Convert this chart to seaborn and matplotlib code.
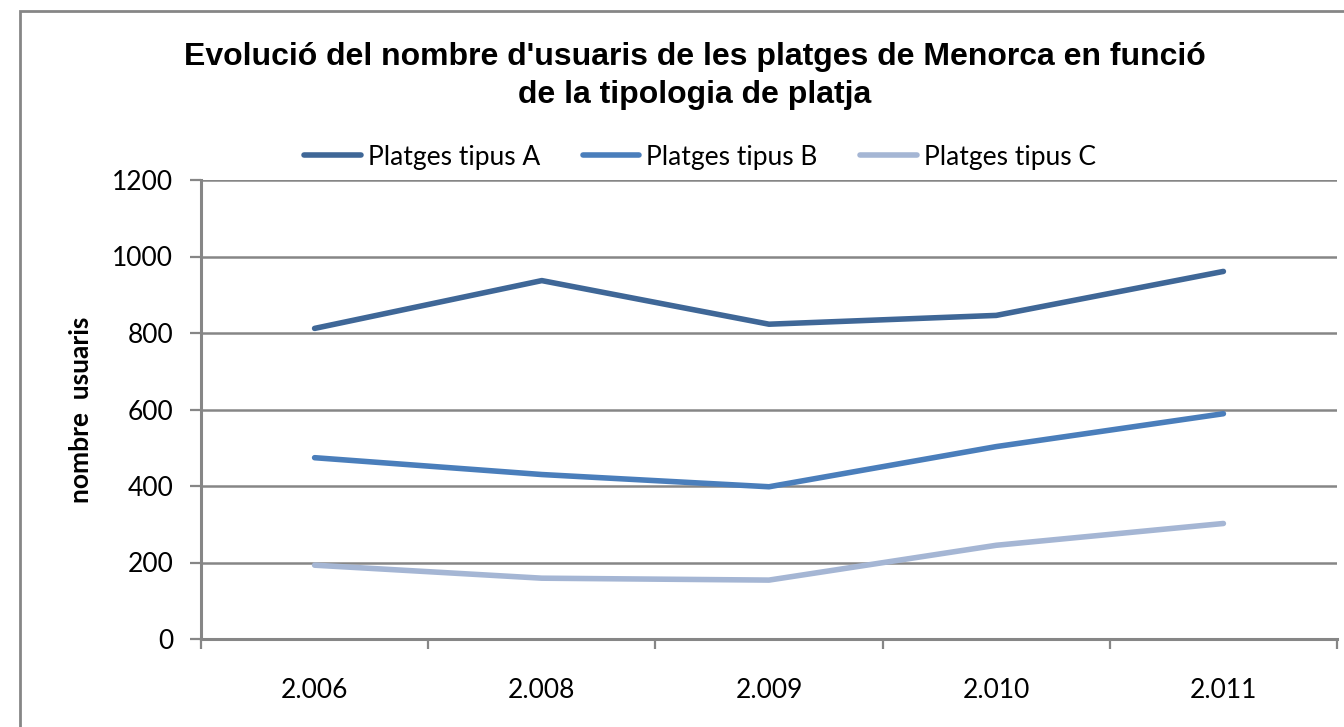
import pandas as pd
import matplotlib.pyplot as plt
import seaborn as sns
from matplotlib.patches import Rectangle
from matplotlib.ticker import FixedLocator

# Dades
anys = ["2.006", "2.008", "2.009", "2.010", "2.011"]
tipus_a = [812, 937, 823, 846, 961]
tipus_b = [474, 430, 398, 503, 589]
tipus_c = [193, 159, 154, 245, 302]
series = ["Platges tipus A", "Platges tipus B", "Platges tipus C"]
colors = ["#3F6797", "#4A7EBB", "#A5B6D4"]

df = pd.DataFrame({
    "Any": anys * 3,
    "Usuaris": tipus_a + tipus_b + tipus_c,
    "Tipus": [s for s in series for _ in anys],
})

sns.set_style("white")
plt.rcParams["font.family"] = ["Lato", "DejaVu Sans"]
plt.rcParams["text.color"] = "black"
plt.rcParams["xtick.labelcolor"] = "black"
plt.rcParams["ytick.labelcolor"] = "black"

fig = plt.figure(figsize=(13.44, 7.27), dpi=100)
ax = fig.add_axes([201 / 1344, 1 - 639 / 727, 1136 / 1344, 459 / 727])

sns.lineplot(data=df, x="Any", y="Usuaris", hue="Tipus", palette=colors,
             linewidth=4, ax=ax, sort=False)
for ln in ax.get_lines():
    ln.set_solid_capstyle("round")
    ln.set_solid_joinstyle("round")

# eixos
ax.set_xlim(-0.5, len(anys) - 0.5)
ax.set_ylim(0, 1200)
ax.set_yticks(range(0, 1201, 200))
ax.yaxis.grid(True, color="#868686", linewidth=1.8)
ax.set_axisbelow(True)
ax.xaxis.set_minor_locator(FixedLocator([i - 0.5 for i in range(len(anys) + 1)]))
ax.tick_params(axis="x", which="major", length=0, pad=28, labelsize=19)
ax.tick_params(axis="x", which="minor", length=7, width=1.6, color="#868686", direction="out", bottom=True)
ax.tick_params(axis="y", length=8, width=1.6, color="#868686", direction="out", pad=12, labelsize=19, left=True)
for side in ["top", "right"]:
    ax.spines[side].set_visible(False)
for side in ["left", "bottom"]:
    ax.spines[side].set_color("#868686")
    ax.spines[side].set_linewidth(2.2)
ax.set_xlabel("")
ax.set_ylabel("nombre  usuaris", fontsize=19, fontweight="bold", labelpad=14, color="black")

# llegenda
ax.legend(loc="center", bbox_to_anchor=(700 / 1344, 1 - 157 / 727), bbox_transform=fig.transFigure,
          ncol=3, frameon=False, fontsize=19, handlelength=2.15, handletextpad=0.27,
          columnspacing=1.6, borderpad=0)

# títol
fig.text(695 / 1344, 1 - 76 / 727,
         "Evolució del nombre d'usuaris de les platges de Menorca en funció\nde la tipologia de platja",
         ha="center", va="center", fontsize=23, fontweight="bold", color="black",
         family=["Liberation Sans", "DejaVu Sans"], linespacing=1.35)

# marc
fig.patches.append(Rectangle((20 / 1344, -0.2), 1.2, 1.2 - 11 / 727, transform=fig.transFigure,
                             fill=False, edgecolor="#868686", linewidth=2))

plt.savefig("out.png", dpi=100)
